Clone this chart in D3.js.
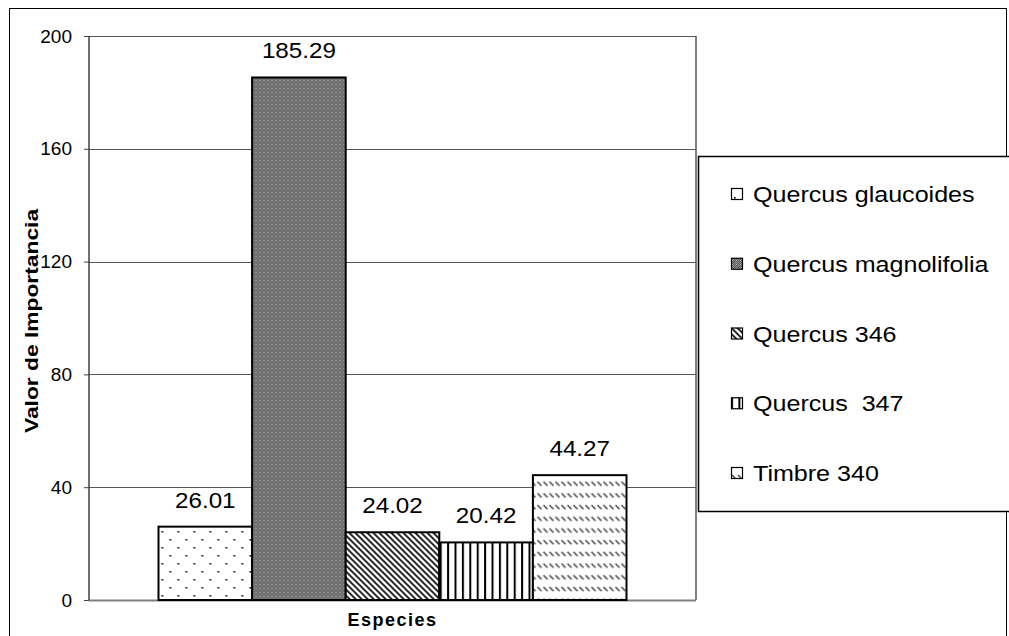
<!DOCTYPE html>
<html>
<head>
<meta charset="utf-8">
<script src="https://cdn.jsdelivr.net/npm/d3@7"></script>
<style>
  html, body { margin: 0; padding: 0; background: #fff; }
  svg { display: block; font-family: "Liberation Sans", Arial, sans-serif; }
  text { white-space: pre; }
</style>
</head>
<body>
<svg id="chart" width="1009" height="636"></svg>
<script>
// Importance value per species
const category = "Especies";
const species = ["Quercus glaucoides", "Quercus magnolifolia", "Quercus 346", "Quercus  347", "Timbre 340"];
const values = [26.01, 185.29, 24.02, 20.42, 44.27];
const yTicks = [0, 40, 80, 120, 160, 200];
const patternIds = ["pDots", "pChecker", "pDiag", "pVert", "pDash"];

const svg = d3.select("#chart");
const plot = { left: 89, top: 36, right: 696, bottom: 600 };

// ---- fill patterns ----
const defs = svg.append("defs");

// sparse staggered dots
const pd = defs.append("pattern").attr("id", "pDots").attr("patternUnits", "userSpaceOnUse")
  .attr("width", 16).attr("height", 16);
pd.append("rect").attr("width", 16).attr("height", 16).attr("fill", "#fff");
pd.append("rect").attr("x", 3).attr("y", 3).attr("width", 1.6).attr("height", 1.6).attr("fill", "#000");
pd.append("rect").attr("x", 11).attr("y", 11).attr("width", 1.6).attr("height", 1.6).attr("fill", "#000");

// dense dark checker with a faint light lattice
const pc = defs.append("pattern").attr("id", "pChecker").attr("patternUnits", "userSpaceOnUse")
  .attr("width", 4).attr("height", 4);
pc.append("rect").attr("width", 4).attr("height", 4).attr("fill", "#ababab");
[[0,0],[2,0],[1,1],[3,1],[0,2],[2,2],[1,3],[3,3]].forEach(([px, py]) =>
  pc.append("rect").attr("x", px).attr("y", py).attr("width", 1).attr("height", 1).attr("fill", "#3a3a3a"));
pc.append("rect").attr("x", 1).attr("y", 0).attr("width", 1).attr("height", 1).attr("fill", "#e6e6e6");

// dense diagonal hatch (top-left to bottom-right)
const pg = defs.append("pattern").attr("id", "pDiag").attr("patternUnits", "userSpaceOnUse")
  .attr("width", 6).attr("height", 6);
pg.append("rect").attr("width", 6).attr("height", 6).attr("fill", "#fff");
pg.append("path").attr("d", "M-1,-1 L7,7 M-4,2 L2,8 M2,-4 L8,2")
  .attr("stroke", "#000").attr("stroke-width", 1.6);

// vertical stripes
const pv = defs.append("pattern").attr("id", "pVert").attr("patternUnits", "userSpaceOnUse")
  .attr("width", 7.4).attr("height", 8);
pv.append("rect").attr("width", 7.4).attr("height", 8).attr("fill", "#fff");
pv.append("rect").attr("x", 0).attr("width", 2).attr("height", 8).attr("fill", "#000");

// rows of short diagonal dashes
const ps = defs.append("pattern").attr("id", "pDash").attr("patternUnits", "userSpaceOnUse")
  .attr("width", 6).attr("height", 11.7);
ps.append("rect").attr("width", 6).attr("height", 11.7).attr("fill", "#fff");
ps.append("path").attr("d", "M1,2 L5,6").attr("stroke", "#333").attr("stroke-width", 1.3);

// ---- frame ----
svg.append("rect").attr("x", 9.5).attr("y", 8.5).attr("width", 997).attr("height", 640)
  .attr("fill", "#fff").attr("stroke", "#000").attr("stroke-width", 1);

// ---- scales ----
const x0 = d3.scaleBand().domain([category]).range([plot.left, plot.right])
  .paddingInner(0.229).paddingOuter(0.1145);
const x1 = d3.scaleBand().domain(species).range([0, x0.bandwidth()]).padding(0);
const y = d3.scaleLinear().domain([0, 200]).range([plot.bottom, plot.top]);

// plot area border (right side)
svg.append("line").attr("x1", plot.right).attr("x2", plot.right)
  .attr("y1", plot.top).attr("y2", plot.bottom)
  .attr("stroke", "#808080").attr("stroke-width", 2);

// gridlines
svg.append("g").selectAll("line").data(yTicks).join("line")
  .attr("x1", plot.left).attr("x2", plot.right)
  .attr("y1", d => Math.round(y(d)) + 0.5).attr("y2", d => Math.round(y(d)) + 0.5)
  .attr("stroke", d => d === 0 ? "#808080" : "#555").attr("stroke-width", d => d === 0 ? 2 : 1);

// y axis
const yAxis = svg.append("g").attr("transform", `translate(${plot.left},0)`)
  .call(d3.axisLeft(y).tickValues(yTicks).tickSize(5).tickPadding(12).tickFormat(d3.format("d")));
yAxis.select(".domain").attr("stroke", "#404040").attr("stroke-width", 1.5).attr("d", `M0,${plot.top}V${plot.bottom}`);
yAxis.selectAll(".tick line").attr("stroke", "#404040");
yAxis.selectAll(".tick text").attr("font-size", 19).attr("fill", "#000")
  .attr("font-family", "Liberation Sans, Arial, sans-serif");

// bars
const g = svg.append("g").attr("transform", `translate(${x0(category)},0)`);
g.selectAll("rect.bar").data(values).join("rect")
  .attr("class", "bar")
  .attr("x", (d, i) => x1(species[i]))
  .attr("width", x1.bandwidth())
  .attr("y", d => y(d))
  .attr("height", d => y(0) - y(d))
  .attr("fill", (d, i) => `url(#${patternIds[i]})`)
  .attr("stroke", "#000").attr("stroke-width", 2);

// value labels (slightly widened glyphs)
const labelScale = 1.1;
g.selectAll("text.val").data(values).join("text")
  .attr("class", "val")
  .attr("transform", (d, i) =>
    `translate(${x1(species[i]) + x1.bandwidth() / 2},${y(d) - 19}) scale(${labelScale},1)`)
  .attr("text-anchor", "middle")
  .attr("font-size", 22)
  .text(d => d.toFixed(2));

// axis titles
svg.append("text")
  .attr("transform", `translate(38,${(plot.top + plot.bottom) / 2 + 3}) rotate(-90) scale(1.2,1)`)
  .attr("text-anchor", "middle").attr("font-weight", "bold").attr("font-size", 19)
  .text("Valor de Importancia");
svg.append("text")
  .attr("x", x0(category) + x0.bandwidth() / 2).attr("y", 626)
  .attr("text-anchor", "middle").attr("font-weight", "bold").attr("font-size", 18)
  .attr("letter-spacing", 1.5)
  .text(category);

// legend
const legend = svg.append("g");
legend.append("rect").attr("x", 698.5).attr("y", 156.5).attr("width", 330).attr("height", 355)
  .attr("fill", "#fff").attr("stroke", "#000").attr("stroke-width", 1.5);
const ly = d3.scalePoint().domain(species).range([194, 473]);
const items = legend.selectAll("g.item").data(species).join("g").attr("class", "item")
  .attr("transform", d => `translate(731,${ly(d)})`);
items.append("rect").attr("x", 0.5).attr("y", -5.5).attr("width", 11).attr("height", 11)
  .attr("fill", (d, i) => `url(#${patternIds[i]})`)
  .attr("stroke", "#000").attr("stroke-width", 1.2);
items.append("text").attr("transform", "translate(22,8) scale(1.14,1)").attr("font-size", 22)
  .text(d => d);
</script>
</body>
</html>
